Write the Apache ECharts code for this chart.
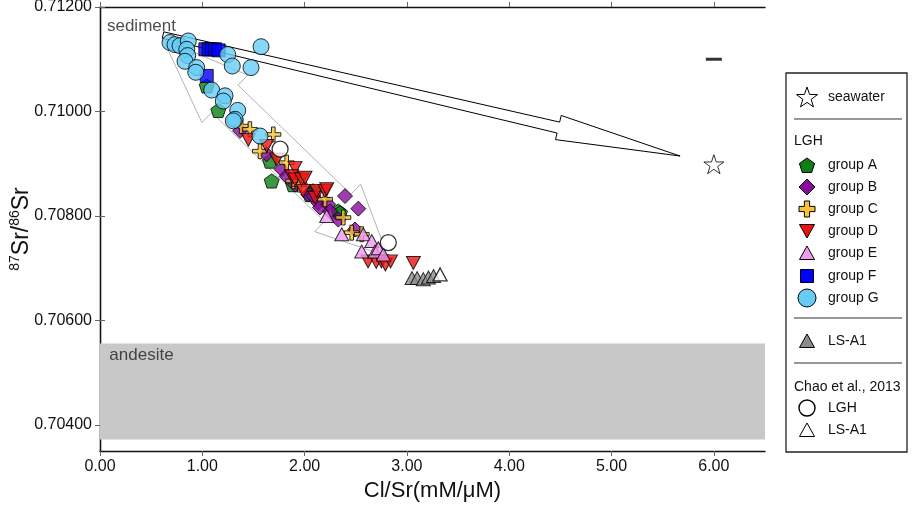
<!DOCTYPE html>
<html lang="en">
<head>
<meta charset="UTF-8">
<title>87Sr/86Sr vs Cl/Sr</title>
<script src="https://cdn.jsdelivr.net/npm/echarts@6/dist/echarts.min.js"></script>
<style>
  html, body { margin: 0; padding: 0; background: #fff; }
  #chart { width: 913px; height: 505px; }
</style>
</head>
<body>
<div id="chart"></div>
<script>
// values: [Cl/Sr, 87Sr/86Sr]
var groupA = [[1.156,0.71002],[1.043,0.71049],[1.678,0.70867],[1.662,0.70905],[1.887,0.70860],[2.082,0.70848],
  [2.053,0.70841],[2.329,0.70809],[2.346,0.70806]];
var groupB = [[1.369,0.70963],[1.629,0.70918],[1.776,0.70889],[1.825,0.70876],[1.906,0.70860],[2.036,0.70841],
  [2.085,0.70838],[2.134,0.70825],[2.151,0.70816],[2.232,0.70822],[2.248,0.70809],[2.395,0.70838],[2.525,0.70814],
  [2.329,0.70793],[2.493,0.70774]];
var groupC = [[1.380,0.70972],[1.465,0.70966],[1.694,0.70956],[1.564,0.70924],[1.825,0.70902],[1.890,0.70867],
  [1.950,0.70860],[2.199,0.70832],[2.378,0.70797],[2.460,0.70768],[2.558,0.70765]];
var groupD = [[1.450,0.70946],[1.629,0.70934],[1.727,0.70908],[1.906,0.70892],[1.874,0.70876],[1.906,0.70870],
  [1.972,0.70870],[2.004,0.70873],[1.987,0.70848],[2.102,0.70835],[2.118,0.70848],[2.199,0.70848],[2.216,0.70851],
  [2.620,0.70713],[2.700,0.70712],[2.750,0.70713],[2.790,0.70707],[2.840,0.70713],[3.063,0.70710]];
var groupE = [[2.216,0.70800],[2.363,0.70765],[2.574,0.70765],[2.656,0.70752],[2.558,0.70732],[2.688,0.70732],
  [2.720,0.70738],[2.769,0.70726]];
var groupF = [[1.030,0.71119],[1.062,0.71119],[1.092,0.71119],[1.124,0.71119],[1.160,0.71117],[1.043,0.71068]];
var groupG = [[0.684,0.71132],[0.733,0.71128],[0.782,0.71126],[0.863,0.71135],[0.848,0.71119],[0.857,0.71107],
  [0.831,0.71096],[0.945,0.71084],[0.936,0.71075],[1.248,0.71109],[1.293,0.71087],[1.476,0.71084],[1.574,0.71124],
  [1.092,0.71041],[1.222,0.71030],[1.205,0.71020],[1.346,0.71002],[1.320,0.70985],[1.303,0.70982],[1.564,0.70953]];
var lsA1 = [[3.050,0.70681],[3.100,0.70681],[3.160,0.70679],[3.210,0.70682],[3.260,0.70685]];
var chaoLGH = [[1.760,0.70928],[2.818,0.70749]];
var chaoLSA1 = [[3.324,0.70688]];
var seawater = [[6.0,0.70899]];
var seawaterBar = [[6.0,0.71100]];

// end members and mixing arrows [x0, y0, x1, y1]
var mixArrow = [[0.616,0.711463,5.670,0.709147]];
var trendArrow = [[0.616,0.711386,2.815,0.707223]];
var andesiteBand = [0.70372, 0.70556];
var areaLabels = [[0.068,0.711635,'sediment'],[0.091,0.705323,'andesite']];

var xTicks = [0, 1, 2, 3, 4, 5, 6];
var yTicks = [0.704, 0.706, 0.708, 0.710, 0.712];

var FONT = '"Liberation Sans", Arial, Helvetica, sans-serif';
var P_PENTAGON = 'path://M0,-1 L0.951,-0.309 L0.588,0.809 L-0.588,0.809 L-0.951,-0.309 Z';
var P_CROSS = 'path://M-0.24,-1 L0.24,-1 L0.24,-0.24 L1,-0.24 L1,0.24 L0.24,0.24 L0.24,1 L-0.24,1 L-0.24,0.24 L-1,0.24 L-1,-0.24 L-0.24,-0.24 Z';
var P_STAR = 'path://M0,-1 L0.2245,-0.309 L0.951,-0.309 L0.363,0.118 L0.588,0.809 L0,0.382 L-0.588,0.809 L-0.363,0.118 L-0.951,-0.309 L-0.2245,-0.309 Z';

function pts(name, data, symbol, size, color, extra) {
  var s = {
    name: name, type: 'scatter', data: data, symbol: symbol, symbolSize: size,
    symbolKeepAspect: true,
    itemStyle: { color: color, borderColor: '#000', borderWidth: 1 },
    emphasis: { disabled: true }
  };
  for (var k in extra) s[k] = extra[k];
  return s;
}

function arrowRender(kind) {
  return function (params, api) {
    var a = api.coord([api.value(0), api.value(1)]);
    var b = api.coord([api.value(2), api.value(3)]);
    var dx = b[0] - a[0], dy = b[1] - a[1];
    var L = Math.sqrt(dx * dx + dy * dy);
    var ux = dx / L, uy = dy / L, nx = -uy, ny = ux;
    function p(t, w) { return [a[0] + ux * t + nx * w, a[1] + uy * t + ny * w]; }
    var points;
    if (kind === 'single') {
      var h = 125, hw = 12.4, s = 5.6, t = 3.3;
      points = [p(0, -t), p(L - h, -s), p(L - h, -hw), p(L, 0), p(L - h, hw), p(L - h, s), p(0, t)];
      return { type: 'polygon', shape: { points: points },
        style: { fill: '#fff', stroke: '#000', lineWidth: 1 } };
    }
    var h1 = 86, h2 = 70, hw2 = 33, s2 = 19;
    points = [p(0, 0), p(h1, -hw2), p(h1, -s2), p(L - h2, -s2), p(L - h2, -hw2), p(L, 0),
      p(L - h2, hw2), p(L - h2, s2), p(h1, s2), p(h1, hw2)];
    return { type: 'polygon', shape: { points: points },
      style: { fill: 'rgba(255,255,255,0)', stroke: '#b4b4b4', lineWidth: 1 } };
  };
}

// legend drawn by hand (box, separators, headings)
function poly(kind, cx, cy, fill) {
  var pts2 = [], i, r;
  if (kind === 'pentagon') {
    r = 8;
    for (i = 0; i < 5; i++) {
      var an = -Math.PI / 2 + i * 2 * Math.PI / 5;
      pts2.push([cx + r * Math.cos(an), cy + 1 + r * Math.sin(an)]);
    }
  } else if (kind === 'diamond') {
    pts2 = [[cx, cy - 8], [cx + 8, cy], [cx, cy + 8], [cx - 8, cy]];
  } else if (kind === 'cross') {
    var A = 8, B = 2.6;
    pts2 = [[cx - B, cy - A], [cx + B, cy - A], [cx + B, cy - B], [cx + A, cy - B], [cx + A, cy + B], [cx + B, cy + B],
      [cx + B, cy + A], [cx - B, cy + A], [cx - B, cy + B], [cx - A, cy + B], [cx - A, cy - B], [cx - B, cy - B]];
  } else if (kind === 'down') {
    pts2 = [[cx - 7.5, cy - 6.5], [cx + 7.5, cy - 6.5], [cx, cy + 7]];
  } else if (kind === 'up') {
    pts2 = [[cx - 7.5, cy + 6.5], [cx + 7.5, cy + 6.5], [cx, cy - 7]];
  } else if (kind === 'star') {
    for (i = 0; i < 10; i++) {
      r = i % 2 === 0 ? 11 : 4.4;
      var an2 = -Math.PI / 2 + i * Math.PI / 5;
      pts2.push([cx + r * Math.cos(an2), cy + 1 + r * Math.sin(an2)]);
    }
  }
  return { type: 'polygon', shape: { points: pts2 }, style: { fill: fill, stroke: '#000', lineWidth: 1 } };
}

var SX = 807, TX = 828;
var LEGEND_FONT = '14px ' + FONT;
var legendRows = [
  ['star', '#fff', 97, 'seawater'],
  ['pentagon', '#0b7f14', 165, 'group A'],
  ['diamond', '#8a0a9c', 187, 'group B'],
  ['cross', '#f7c233', 209, 'group C'],
  ['down', '#ee1111', 231, 'group D'],
  ['up', '#f09af0', 253, 'group E'],
  ['square', '#0000ff', 276, 'group F'],
  ['circle', '#66ccf5', 298, 'group G'],
  ['up', '#8c8c8c', 341, 'LS-A1'],
  ['circle', '#fff', 408, 'LGH'],
  ['up', '#fff', 430, 'LS-A1']
];
var graphics = [
  { type: 'rect', shape: { x: 786, y: 73, width: 121, height: 379 }, style: { fill: '#fff', stroke: '#222', lineWidth: 1.3 } },
  { type: 'line', shape: { x1: 794, y1: 119, x2: 902, y2: 119 }, style: { stroke: '#333', lineWidth: 1.2 } },
  { type: 'line', shape: { x1: 794, y1: 318, x2: 902, y2: 318 }, style: { stroke: '#333', lineWidth: 1.2 } },
  { type: 'line', shape: { x1: 794, y1: 363, x2: 902, y2: 363 }, style: { stroke: '#333', lineWidth: 1.2 } },
  { type: 'text', x: 794, y: 141, style: { text: 'LGH', font: LEGEND_FONT, fill: '#111', textVerticalAlign: 'middle' } },
  { type: 'text', x: 794, y: 387, style: { text: 'Chao et al., 2013', font: LEGEND_FONT, fill: '#111', textVerticalAlign: 'middle' } }
];
legendRows.forEach(function (r) {
  var kind = r[0], fill = r[1], y = r[2];
  if (kind === 'square') {
    graphics.push({ type: 'rect', shape: { x: SX - 6.5, y: y - 6.5, width: 13, height: 13 }, style: { fill: fill, stroke: '#000', lineWidth: 1 } });
  } else if (kind === 'circle') {
    graphics.push({ type: 'circle', shape: { cx: SX, cy: y, r: fill === '#fff' ? 8 : 9 }, style: { fill: fill, stroke: '#000', lineWidth: fill === '#fff' ? 1.4 : 1 } });
  } else {
    graphics.push(poly(kind, SX, y, fill));
  }
  graphics.push({ type: 'text', x: TX, y: y, style: { text: r[3], font: LEGEND_FONT, fill: '#111', textVerticalAlign: 'middle' } });
});

var axisLine = { show: true, lineStyle: { color: '#111', width: 1.3 } };

var option = {
  animation: false,
  backgroundColor: '#fff',
  grid: { left: 100, top: 7, right: 148, bottom: 54, outerBoundsMode: 'none', containLabel: false },
  xAxis: [{
    type: 'value', min: 0, max: 6.5, position: 'bottom',
    name: 'Cl/Sr(mM/\u03bcM)', nameLocation: 'middle', nameGap: 28,
    nameTextStyle: { fontFamily: FONT, fontSize: 22, color: '#111' },
    axisLine: axisLine,
    axisTick: { show: true, length: 5, lineStyle: { color: '#666' }, customValues: xTicks },
    axisLabel: { customValues: xTicks, margin: 8, fontFamily: FONT, fontSize: 16, color: '#111',
      formatter: function (v) { return v.toFixed(2); } },
    splitLine: { show: false }
  }, {
    type: 'value', min: 0, max: 6.5, position: 'top',
    axisLine: axisLine,
    axisTick: { show: true, length: 5, lineStyle: { color: '#666' }, customValues: xTicks },
    axisLabel: { show: false }, splitLine: { show: false }
  }],
  yAxis: [{
    type: 'value', min: 0.7035, max: 0.712, position: 'left',
    name: '{sup|87}{n|Sr/}{sup|86}{n|Sr}', nameLocation: 'middle', nameGap: 64,
    nameMoveOverlap: false,
    nameTextStyle: {
      rich: {
        n: { fontFamily: FONT, fontSize: 23, color: '#111', lineHeight: 28 },
        sup: { fontFamily: FONT, fontSize: 14, color: '#111', verticalAlign: 'top', lineHeight: 28 }
      }
    },
    axisLine: axisLine,
    axisTick: { show: true, length: 5, lineStyle: { color: '#666' }, customValues: yTicks },
    axisLabel: { customValues: yTicks, margin: 8, fontFamily: FONT, fontSize: 16, color: '#111',
      formatter: function (v) { return v.toFixed(5); } },
    splitLine: { show: false }
  }, {
    type: 'value', min: 0.7035, max: 0.712, position: 'right',
    axisLine: axisLine,
    axisTick: { show: true, length: 5, lineStyle: { color: '#666' }, customValues: yTicks },
    axisLabel: { show: false }, splitLine: { show: false }
  }],
  graphic: graphics,
  series: [
    {
      name: 'labels', type: 'scatter', data: areaLabels, symbolSize: 0, silent: true,
      label: { show: true, position: 'right', distance: 0, fontFamily: FONT, fontSize: 17, color: '#222',
        formatter: function (p) { return p.value[2]; } },
      markArea: {
        silent: true,
        itemStyle: { color: '#c8c8c8' },
        data: [[{ yAxis: andesiteBand[0] }, { yAxis: andesiteBand[1] }]]
      },
      z: 1
    },
    { name: 'trend', type: 'custom', data: trendArrow, renderItem: arrowRender('double'),
      encode: { x: [0, 2], y: [1, 3] }, silent: true, z: 2 },
    { name: 'mixing', type: 'custom', data: mixArrow, renderItem: arrowRender('single'),
      encode: { x: [0, 2], y: [1, 3] }, silent: true, z: 2 },
    pts('seawater', seawater, P_STAR, 20, '#fff', {}),
    pts('seawater bar', seawaterBar, 'rect', [16, 3], '#000', { itemStyle: { color: '#000' } }),
    pts('group A', groupA, P_PENTAGON, 15, '#0b7f14', {}),
    pts('group B', groupB, 'diamond', 15, '#8a0a9c', {}),
    pts('group C', groupC, P_CROSS, 15, '#f7c233', {}),
    pts('group D', groupD, 'triangle', [14, 13], '#ee1111', { symbolRotate: 180, symbolKeepAspect: false }),
    pts('group E', groupE, 'triangle', [14, 13], '#f09af0', { symbolKeepAspect: false }),
    pts('group F', groupF, 'rect', 13, '#0000ff', {}),
    pts('group G', groupG, 'circle', 16, '#66ccf5', {}),
    pts('LS-A1', lsA1, 'triangle', [14, 13], '#8c8c8c', { symbolKeepAspect: false }),
    pts('Chao LGH', chaoLGH, 'circle', 16, '#fff', { itemStyle: { color: '#fff', borderColor: '#000', borderWidth: 1.3 } }),
    pts('Chao LS-A1', chaoLSA1, 'triangle', [14, 13], '#fff', { symbolKeepAspect: false, itemStyle: { color: '#fff', borderColor: '#000', borderWidth: 1.3 } })
  ]
};

var myChart = echarts.init(document.getElementById('chart'));
myChart.setOption(option);
</script>
</body>
</html>
